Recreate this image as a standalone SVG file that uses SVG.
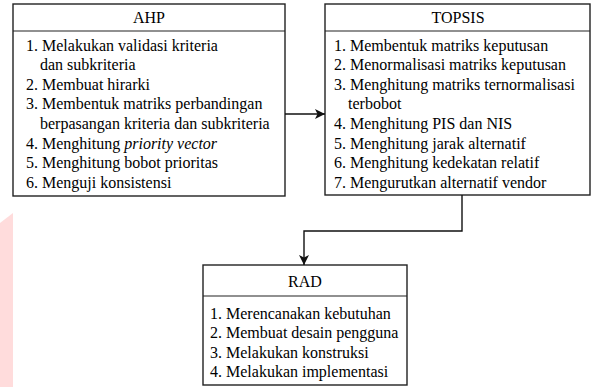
<svg xmlns="http://www.w3.org/2000/svg" width="598" height="387" viewBox="0 0 598 387">
<defs>
<marker id="arr" viewBox="0 0 10 10" refX="10" refY="5" markerWidth="10" markerHeight="10" markerUnits="userSpaceOnUse" orient="auto">
<path d="M0,0 L10,5 L0,10 L2.5,5 Z" fill="#111"/>
</marker>
</defs>
<rect width="598" height="387" fill="#fff"/>
<polygon points="0,223 13,213 13,387 0,387" fill="#ffdcdc"/>
<g id="ahp" font-family="Liberation Serif" font-size="16">
<rect x="13" y="4" width="272" height="192" fill="#fff" stroke="#222" stroke-width="1.4"/>
<line x1="13" y1="31" x2="285" y2="31" stroke="#222" stroke-width="1.2"/>
<text x="149" y="23" text-anchor="middle">AHP</text>
<text x="26" y="51">1. Melakukan validasi kriteria</text>
<text x="40" y="70">dan subkriteria</text>
<text x="26" y="90">2. Membuat hirarki</text>
<text x="26" y="109">3. Membentuk matriks perbandingan</text>
<text x="40" y="129">berpasangan kriteria dan subkriteria</text>
<text x="26" y="149">4. Menghitung <tspan font-style="italic">priority vector</tspan></text>
<text x="26" y="168">5. Menghitung bobot prioritas</text>
<text x="26" y="188">6. Menguji konsistensi</text>
</g>
<g id="topsis" font-family="Liberation Serif" font-size="16">
<rect x="325" y="4" width="265" height="191" fill="#fff" stroke="#222" stroke-width="1.4"/>
<line x1="325" y1="31" x2="590" y2="31" stroke="#222" stroke-width="1.2"/>
<text x="458" y="23" text-anchor="middle">TOPSIS</text>
<text x="334" y="51">1. Membentuk matriks keputusan</text>
<text x="334" y="70">2. Menormalisasi matriks keputusan</text>
<text x="334" y="90">3. Menghitung matriks ternormalisasi</text>
<text x="348" y="109">terbobot</text>
<text x="334" y="129">4. Menghitung PIS dan NIS</text>
<text x="334" y="149">5. Menghitung jarak alternatif</text>
<text x="334" y="168">6. Menghitung kedekatan relatif</text>
<text x="334" y="188">7. Mengurutkan alternatif vendor</text>
</g>
<g id="rad" font-family="Liberation Serif" font-size="16">
<rect x="203" y="265" width="204" height="120" fill="#fff" stroke="#222" stroke-width="1.4"/>
<line x1="203" y1="296" x2="407" y2="296" stroke="#222" stroke-width="1.2"/>
<text x="305" y="287" text-anchor="middle">RAD</text>
<text x="210" y="319">1. Merencanakan kebutuhan</text>
<text x="210" y="338">2. Membuat desain pengguna</text>
<text x="210" y="358">3. Melakukan konstruksi</text>
<text x="210" y="377">4. Melakukan implementasi</text>
</g>
<g id="connectors" fill="none" stroke="#111" stroke-width="1.4">
<line x1="285" y1="114" x2="325" y2="114" marker-end="url(#arr)"/>
<polyline points="462,195 462,231 304,231 304,265" marker-end="url(#arr)"/>
</g>
</svg>
